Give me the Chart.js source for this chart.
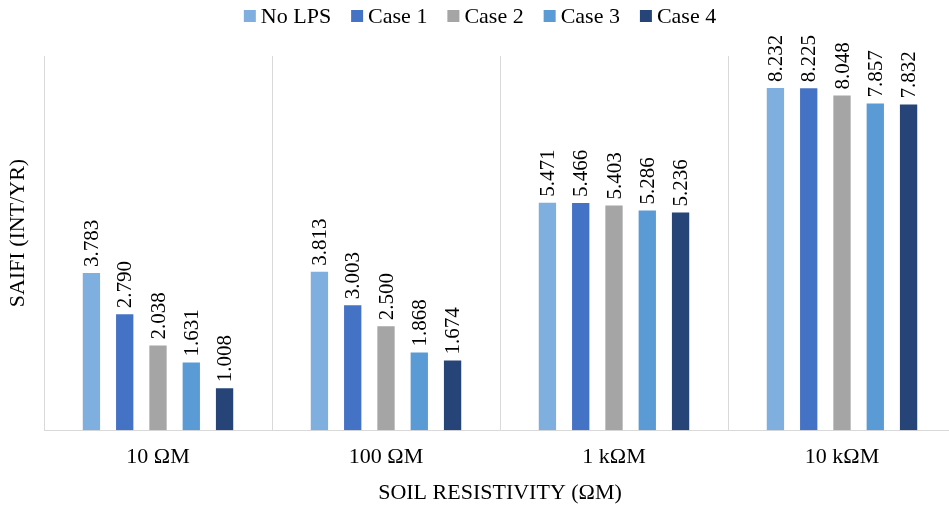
<!DOCTYPE html>
<html>
<head>
<meta charset="utf-8">
<script src="https://cdn.jsdelivr.net/npm/chart.js@4/dist/chart.umd.min.js"></script>
<style>
  html, body { margin: 0; padding: 0; background: #fff; overflow: hidden; }
  #wrap { width: 960px; height: 510px; }
</style>
</head>
<body>
<div id="wrap"><canvas id="c" width="960" height="510"></canvas></div>
<script>
const categories = ['10 ΩM', '100 ΩM', '1 kΩM', '10 kΩM'];
const seriesNames = ['No LPS', 'Case 1', 'Case 2', 'Case 3', 'Case 4'];
const noLps = [3.783, 3.813, 5.471, 8.232];
const case1 = [2.790, 3.003, 5.466, 8.225];
const case2 = [2.038, 2.500, 5.403, 8.048];
const case3 = [1.631, 1.868, 5.286, 7.857];
const case4 = [1.008, 1.674, 5.236, 7.832];
const seriesColors = ['#7EAFDE', '#4472C4', '#A5A5A5', '#5B9BD5', '#264478'];
const yTitle = 'SAIFI (INT/YR)';

const FONT = "'Liberation Serif', 'Times New Roman', serif";
const FONT_SIZE = 22;
const LABEL_SIZE = 21;

// Rotated value labels above each bar
const barValueLabels = {
  id: 'barValueLabels',
  afterDatasetsDraw(chart) {
    const ctx = chart.ctx;
    ctx.save();
    ctx.font = LABEL_SIZE + 'px ' + FONT;
    ctx.fillStyle = '#000';
    ctx.textAlign = 'left';
    ctx.textBaseline = 'middle';
    chart.data.datasets.forEach((ds, i) => {
      const meta = chart.getDatasetMeta(i);
      meta.data.forEach((bar, j) => {
        ctx.save();
        ctx.translate(bar.x + 1, bar.y - 6);
        ctx.rotate(-Math.PI / 2);
        ctx.fillText(ds.data[j].toFixed(3), 0, 0);
        ctx.restore();
      });
    });
    ctx.restore();
  }
};

// Compact legend row across the top plus the vertical value-axis title
const topLegend = {
  id: 'topLegend',
  afterDraw(chart) {
    const ctx = chart.ctx;
    const box = 12, gapText = 5, gapItem = 20, cy = 16;
    ctx.save();
    ctx.font = FONT_SIZE + 'px ' + FONT;
    ctx.textBaseline = 'middle';
    ctx.textAlign = 'left';
    const items = chart.data.datasets.map(ds => ({
      text: ds.label, color: ds.backgroundColor, w: ctx.measureText(ds.label).width
    }));
    const total = items.reduce((s, it) => s + box + gapText + it.w, 0) + gapItem * (items.length - 1);
    let x = chart.width / 2 - total / 2;
    items.forEach(it => {
      ctx.fillStyle = it.color;
      ctx.fillRect(x, cy - box / 2, box, box);
      ctx.fillStyle = '#000';
      ctx.fillText(it.text, x + box + gapText, cy + 1);
      x += box + gapText + it.w + gapItem;
    });

    // value-axis title, rotated
    ctx.save();
    ctx.translate(18, chart.chartArea.top + (chart.chartArea.bottom - chart.chartArea.top) / 2 - 10);
    ctx.rotate(-Math.PI / 2);
    ctx.textAlign = 'center';
    ctx.fillStyle = '#000';
    ctx.fillText(yTitle, 0, 0);
    ctx.restore();
    ctx.restore();
  }
};

const allSeries = [noLps, case1, case2, case3, case4];

new Chart(document.getElementById('c'), {
  type: 'bar',
  data: {
    labels: categories,
    datasets: allSeries.map((vals, i) => ({
      label: seriesNames[i],
      data: vals,
      backgroundColor: seriesColors[i],
      borderWidth: 0,
      categoryPercentage: 0.73,
      barPercentage: 0.52
    }))
  },
  options: {
    responsive: false,
    animation: false,
    devicePixelRatio: 1,
    layout: { padding: { left: 44, right: 4, top: 56, bottom: 4 } },
    plugins: {
      legend: { display: false },
      tooltip: { enabled: false }
    },
    scales: {
      x: {
        offset: true,
        grid: { display: true, offset: true, color: '#D9D9D9', drawTicks: false },
        border: { display: true, color: '#D9D9D9' },
        ticks: { color: '#000', font: { family: FONT, size: FONT_SIZE }, padding: 14 },
        title: {
          display: true,
          text: 'SOIL RESISTIVITY (ΩM)',
          color: '#000',
          font: { family: FONT, size: FONT_SIZE },
          padding: { top: -5, bottom: 0 }
        }
      },
      y: {
        display: false,
        min: 0,
        max: 9
      }
    }
  },
  plugins: [barValueLabels, topLegend]
});
</script>
</body>
</html>
